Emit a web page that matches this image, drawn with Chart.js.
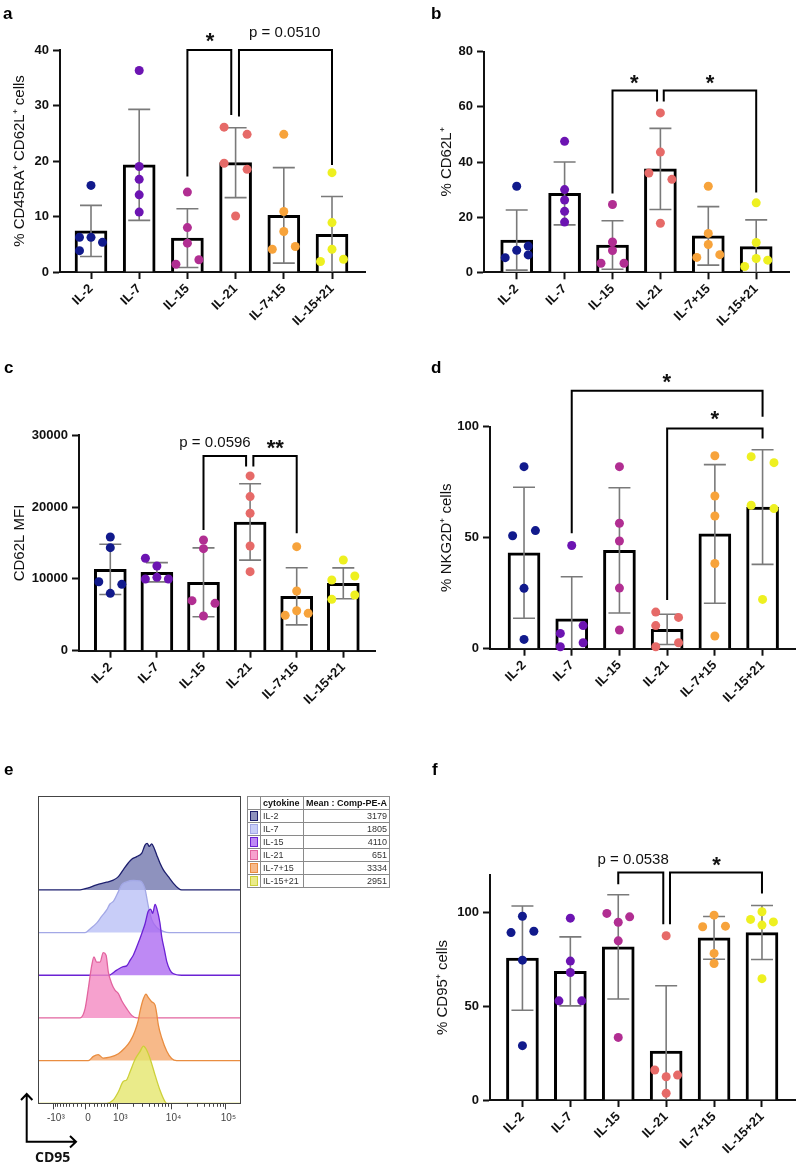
<!DOCTYPE html>
<html><head><meta charset="utf-8">
<script src="https://cdn.jsdelivr.net/npm/chart.js@4.4.1/dist/chart.umd.min.js"></script>
<style>
html,body{margin:0;padding:0;background:#fff;}
body{width:800px;height:1163px;position:relative;overflow:hidden;}
canvas{position:absolute;}
#legtab{position:absolute;left:247px;top:796px;border-collapse:collapse;font:9px "Liberation Sans",Arial,sans-serif;color:#333;border:1px solid #555;}
#legtab td,#legtab th{border:1px solid #8a8a8a;height:12px;padding:0 2px;line-height:11px;white-space:nowrap;}
#legtab th{font-weight:bold;color:#111;text-align:left;}
#legtab td.v{text-align:right;}
#legtab .sw{display:inline-block;width:6px;height:8px;border:1px solid #444;vertical-align:middle;}
</style></head><body>
<canvas id="ca" width="400" height="360" style="left:0;top:0"></canvas>
<canvas id="cb" width="400" height="360" style="left:400px;top:0"></canvas>
<canvas id="cc" width="400" height="390" style="left:0;top:360px"></canvas>
<canvas id="cd" width="400" height="390" style="left:400px;top:360px"></canvas>
<canvas id="ce" width="400" height="403" style="left:0;top:760px"></canvas>
<canvas id="cf" width="400" height="403" style="left:400px;top:760px"></canvas>
<table id="legtab"></table>
<script>
// ---------------- DATA ----------------
const categories = ['IL-2','IL-7','IL-15','IL-21','IL-7+15','IL-15+21'];

// panel a: % CD45RA+ CD62L+ cells
const aMean = [7.4, 19.3, 6.1, 19.7, 10.2, 6.8];
const aSD = [4.6, 10.0, 5.3, 6.3, 8.6, 6.8];
const aPoints = [[15.6,6.25,6.25,5.35,3.84],[36.3,19.0,16.7,13.9,10.8],[14.4,8.0,5.2,2.2,1.4],[26.1,24.8,19.6,18.5,10.1],[24.8,10.9,7.3,4.6,4.1],[17.9,8.9,4.1,2.3,1.9]];
const aCols = [[0,-1,0,1,-1],[0,0,0,0,0],[0,0,0,1,-1],[-1,1,-1,1,0],[0,0,0,1,-1],[0,0,0,1,-1]];
const aTicks = [0,10,20,30,40];

// panel b: % CD62L+
const bMean = [11.7, 28.6, 9.9, 37.5, 13.2, 9.3];
const bSD = [10.9, 11.4, 8.8, 14.7, 10.6, 9.7];
const bPoints = [[31.2,9.5,8.0,6.3,5.3],[47.5,30.0,26.2,22.1,18.2],[24.6,11.0,7.9,3.3,3.3],[57.8,43.6,36.0,33.7,17.8],[31.2,14.1,10.1,6.4,5.4],[25.2,10.8,5.0,4.4,2.1]];
const bCols = [[0,1,0,1,-1],[0,0,0,0,0],[0,0,0,-1,1],[0,0,-1,1,0],[0,0,0,1,-1],[0,0,0,1,-1]];
const bTicks = [0,20,40,60,80];

// panel c: CD62L MFI
const cMean = [11330, 10920, 9520, 17930, 7570, 9380];
const cSD = [3500, 1340, 4800, 5320, 3980, 2150];
const cPoints = [[15840,14350,9610,9240,7990],[12870,11800,9990,10220,9990],[15420,14210,6970,6600,4830],[24340,21460,19140,14580,11010],[14490,8310,5570,5200,4920],[12630,10400,9850,7760,7150]];
const cCols = [[0,0,-1,1,0],[-1,0,-1,0,1],[0,0,-1,1,0],[0,0,0,0,0],[0,0,0,1,-1],[0,1,-1,1,-1]];
const cTicks = [0,10000,20000,30000];

// panel d: % NKG2D+ cells
const dMean = [43.2, 13.4, 44.3, 8.7, 51.7, 63.8];
const dSD = [29.5, 19.0, 28.2, 6.8, 31.2, 25.8];
const dPoints = [[82.0,53.2,50.9,27.2,4.2],[46.5,10.4,6.9,2.7,0.9],[82.0,56.5,48.5,27.3,8.4],[16.5,14.1,10.4,2.7,0.9],[86.9,68.8,59.8,38.4,5.7],[86.5,83.8,64.6,63.1,22.2]];
const dCols = [[0,1,-1,0,0],[0,1,-1,1,-1],[0,0,0,0,0],[-1,1,-1,1,-1],[0,0,0,0,0],[-1,1,-1,1,0]];
const dTicks = [0,50,100];

// panel f: % CD95+ cells
const fMean = [75.7, 68.6, 81.7, 26.1, 86.5, 89.3];
const fSD = [27.8, 18.4, 27.8, 34.8, 11.4, 14.4];
const fPoints = [[98.0,90.0,89.3,74.6,29.0],[97.0,74.1,68.0,52.9,52.9],[99.5,97.7,94.8,84.9,33.4],[87.6,16.0,13.3,12.4,3.6],[98.6,92.7,92.4,78.2,72.8],[100.4,96.3,95.0,93.3,64.7]];
const fCols = [[0,1,-1,0,0],[0,0,0,-1,1],[-1,1,0,0,0],[0,-1,1,0,0],[0,1,-1,0,0],[0,-1,1,0,0]];
const fTicks = [0,50,100];

// panel e: CD95 histograms (x = position on display axis in %, h = relative height)
const eMeans = [3179, 1805, 4110, 651, 3334, 2951];
const eHistIL2 = [[20.7,0],[24.8,0.05],[28.9,0.12],[33.9,0.18],[37.2,0.23],[39.7,0.31],[42.1,0.47],[44.6,0.63],[46.3,0.72],[48.8,0.78],[51.3,0.86],[52.9,1.05],[54.0,1.09],[55.0,1.02],[56.2,1.08],[57.4,0.98],[58.7,0.82],[60.3,0.63],[62.0,0.47],[64.5,0.31],[66.9,0.16],[69.4,0.04],[71.1,0]];
const eHistIL7 = [[23.2,0],[25.5,0.08],[28.9,0.22],[31.4,0.38],[33.9,0.53],[35.5,0.67],[37.2,0.73],[39.7,0.96],[41.3,1.12],[43.8,1.19],[47.1,1.22],[50.4,1.21],[52.9,1.02],[54.5,0.63],[56.2,0.31],[58.7,0.12],[62.0,0.03],[65.0,0]];
const eHistIL15 = [[35.0,0],[38.9,0.12],[42.1,0.2],[43.8,0.22],[45.5,0.35],[47.1,0.47],[49.6,0.76],[51.3,0.98],[52.9,1.2],[54.5,1.5],[55.7,1.55],[56.7,1.45],[57.9,1.66],[59.0,1.52],[60.3,1.23],[61.2,0.9],[62.5,0.6],[63.7,0.32],[65.3,0.12],[66.8,0.04],[71.1,0]];
const eHistIL21 = [[20.7,0],[23.2,0.22],[24.8,0.69],[26.5,1.23],[27.6,1.43],[28.9,1.31],[30.6,1.31],[32.2,1.53],[33.6,1.47],[34.7,1.08],[36.4,0.8],[38.0,0.65],[39.7,0.57],[41.3,0.41],[43.8,0.22],[46.3,0.06],[48.8,0]];
const eHistIL715 = [[24.8,0],[27.3,0.1],[29.7,0.14],[32.2,0.06],[35.5,0.08],[39.7,0.16],[43.0,0.3],[45.5,0.45],[47.9,0.69],[49.6,0.95],[50.4,1.15],[52.1,1.45],[53.4,1.56],[54.5,1.48],[56.2,1.38],[57.9,1.3],[58.7,1.1],[59.5,0.84],[61.2,0.53],[63.7,0.22],[66.1,0.05],[68.6,0]];
const eHistIL1521 = [[33.9,0],[37.2,0.08],[39.7,0.27],[42.1,0.51],[43.8,0.55],[45.5,0.74],[47.9,1.02],[50.4,1.21],[52.1,1.34],[53.7,1.25],[55.4,1.05],[57.9,0.66],[60.3,0.31],[62.8,0.04],[63.7,0]];
const eHists = [eHistIL2, eHistIL7, eHistIL15, eHistIL21, eHistIL715, eHistIL1521];
const eMajorValues = [-1000, 0, 1000, 10000, 100000];
const eMajorLabels = ['-10³', '0', '10³', '10⁴', '10⁵'];

// ---------------- STYLE ----------------
const FONT = '"Liberation Sans", Arial, Helvetica, sans-serif';
Chart.defaults.font.family = FONT;
Chart.defaults.color = '#111';
const dotColors = ['#111a8c','#6c14b2','#b12e92','#e66a68','#f7a33b','#eef020'];
const eLine = ['#1d1f6e','#a3a8e6','#6b22d4','#e2649f','#e98d40','#cdd03a'];
const eFill = ['rgba(98,104,165,0.72)','rgba(182,188,245,0.75)','rgba(168,98,240,0.75)','rgba(244,138,194,0.8)','rgba(245,168,108,0.8)','rgba(228,230,105,0.78)'];

function makeBarPanel(p) {
  const el = document.getElementById(p.id);
  const [cx, cy, cw, ch] = p.box;
  const {L, R, T, B, C0, S} = p.frame;
  const xmin = -(C0 - L) / S, xmax = xmin + (R - L) / S;
  const XH = 60, yW = L - cx - 5;
  const jit = 11.5 / S;
  const pts = [];
  p.points.forEach((arr, i) => arr.forEach((v, j) => pts.push({x: i + p.cols[i][j] * jit, y: v, c: i})));
  const bars = p.mean.map((m, i) => ({x: i, y: m}));
  const deco = {
    id: 'deco',
    afterDatasetDraw(chart, args) {
      if (args.index !== 0) return;
      const {ctx} = chart, xs = chart.scales.x, ys = chart.scales.y;
      ctx.save();
      ctx.strokeStyle = '#7a7a7a'; ctx.lineWidth = 1.6;
      p.mean.forEach((m, i) => {
        const x = xs.getPixelForValue(i);
        const hi = m + p.sd[i], lo = m - p.sd[i];
        const yHi = ys.getPixelForValue(hi), yLo = ys.getPixelForValue(Math.max(lo, 0));
        ctx.beginPath();
        ctx.moveTo(x, yHi); ctx.lineTo(x, yLo);
        ctx.moveTo(x - 11, yHi); ctx.lineTo(x + 11, yHi);
        if (lo > 0) { ctx.moveTo(x - 11, yLo); ctx.lineTo(x + 11, yLo); }
        ctx.stroke();
      });
      ctx.restore();
    },
    afterDraw(chart) {
      const {ctx} = chart, xs = chart.scales.x, ys = chart.scales.y;
      ctx.save();
      ctx.strokeStyle = '#000'; ctx.lineWidth = 2; ctx.lineJoin = 'miter';
      p.brackets.forEach(b => {
        const x1 = xs.getPixelForValue(b.a + (b.aOff || 0)), x2 = xs.getPixelForValue(b.b + (b.bOff || 0));
        const y = ys.getPixelForValue(b.y);
        ctx.beginPath();
        ctx.moveTo(x1, ys.getPixelForValue(b.aEnd)); ctx.lineTo(x1, y); ctx.lineTo(x2, y); ctx.lineTo(x2, ys.getPixelForValue(b.bEnd));
        ctx.stroke();
        const tx = xs.getPixelForValue(b.tx), ty = ys.getPixelForValue(b.ty);
        ctx.fillStyle = '#111'; ctx.textAlign = 'center';
        if (/^\*+$/.test(b.text)) {
          ctx.font = 'bold 22px ' + FONT; ctx.textBaseline = 'alphabetic';
          ctx.fillText(b.text, tx, ty + 12.7);
        } else {
          ctx.font = '15px ' + FONT; ctx.textBaseline = 'middle';
          ctx.fillText(b.text, tx, ty);
        }
      });
      ctx.font = 'bold 17px ' + FONT; ctx.textAlign = 'left'; ctx.textBaseline = 'alphabetic'; ctx.fillStyle = '#000';
      ctx.fillText(p.letter, p.letterPos[0], p.letterPos[1]);
      ctx.restore();
    }
  };
  const tickFont = {size: 13, weight: 'bold', family: FONT};
  const grid = {display: true, drawOnChartArea: false, drawTicks: true, tickLength: 7, tickWidth: 2, tickColor: '#111', offset: false};
  new Chart(el, {
    type: 'bar',
    data: {datasets: [
      {type: 'bar', data: bars, backgroundColor: '#fff', borderColor: '#000', borderWidth: 3, barThickness: 32, order: 2},
      {type: 'scatter', data: pts, pointRadius: 4.5, pointHoverRadius: 4.5, pointBackgroundColor: pts.map(q => dotColors[q.c]), pointBorderWidth: 0, pointBorderColor: pts.map(q => dotColors[q.c]), order: 1, clip: false}
    ]},
    options: {
      responsive: false, animation: false, devicePixelRatio: 1,
      layout: {padding: {left: 5, top: T - cy, right: cw - (R - cx), bottom: ch - (B - cy) - XH}},
      plugins: {legend: {display: false}, tooltip: {enabled: false}},
      scales: {
        x: {type: 'linear', offset: false, min: xmin, max: xmax,
            afterBuildTicks: s => { s.ticks = categories.map((c, i) => ({value: i})); },
            afterFit: s => { s.height = XH; s.paddingLeft = 0; s.paddingRight = 0; },
            ticks: {callback: v => categories[Math.round(v)], autoSkip: false, minRotation: 45, maxRotation: 45, padding: 2, color: '#111', font: tickFont},
            grid: grid, border: {display: true, color: '#111', width: 2}},
        y: {type: 'linear', min: 0, max: p.max,
            afterBuildTicks: s => { s.ticks = p.ticks.map(v => ({value: v})); },
            afterFit: s => { s.width = yW; s.paddingTop = 0; s.paddingBottom = 0; },
            ticks: {callback: v => String(v), padding: 4, color: '#111', font: tickFont},
            grid: grid, border: {display: true, color: '#111', width: 2},
            title: {display: true, text: p.title, color: '#111', font: {size: 15, family: FONT}, padding: {top: p.titleX - cx - 5 - 9, bottom: 0}}}
      }
    },
    plugins: [deco]
  });
}

makeBarPanel({id: 'ca', box: [0, 0, 400, 360], frame: {L: 60, R: 365, T: 50, B: 272, C0: 91, S: 48.2},
  mean: aMean, sd: aSD, points: aPoints, cols: aCols, max: 40, ticks: aTicks,
  title: '% CD45RA⁺ CD62L⁺ cells', titleX: 20, letter: 'a', letterPos: [3, 18.5],
  brackets: [{a: 2, b: 3, bOff: -0.09, y: 40, aEnd: 17.2, bEnd: 28.3, text: '*', tx: 2.47, ty: 42.7},
             {a: 3, aOff: 0.07, b: 5, y: 40, aEnd: 28.0, bEnd: 19.3, text: 'p = 0.0510', tx: 4.02, ty: 43.0}]});

makeBarPanel({id: 'cb', box: [400, 0, 400, 360], frame: {L: 484, R: 789, T: 51.7, B: 272.3, C0: 516.7, S: 47.9},
  mean: bMean, sd: bSD, points: bPoints, cols: bCols, max: 80, ticks: bTicks,
  title: '% CD62L⁺', titleX: 446.7, letter: 'b', letterPos: [31, 18.5],
  brackets: [{a: 2, b: 3, bOff: -0.07, y: 65.9, aEnd: 28.6, bEnd: 61.9, text: '*', tx: 2.455, ty: 70.7},
             {a: 3, aOff: 0.07, b: 5, y: 65.9, aEnd: 61.9, bEnd: 28.9, text: '*', tx: 4.035, ty: 70.7}]});

makeBarPanel({id: 'cc', box: [0, 360, 400, 390], frame: {L: 79, R: 375, T: 435.3, B: 650.7, C0: 110.3, S: 46.6},
  mean: cMean, sd: cSD, points: cPoints, cols: cCols, max: 30000, ticks: cTicks,
  title: 'CD62L MFI', titleX: 20, letter: 'c', letterPos: [4, 13.3],
  brackets: [{a: 2, b: 3, bOff: -0.086, y: 27130, aEnd: 16810, bEnd: 25640, text: 'p = 0.0596', tx: 2.247, ty: 28970},
             {a: 3, aOff: 0.07, b: 4, y: 27130, aEnd: 25640, bEnd: 16350, text: '**', tx: 3.54, ty: 28970}]});

makeBarPanel({id: 'cd', box: [400, 360, 400, 390], frame: {L: 490, R: 798, T: 426.7, B: 648.7, C0: 524.3, S: 48.1},
  mean: dMean, sd: dSD, points: dPoints, cols: dCols, max: 100, ticks: dTicks,
  title: '% NKG2D⁺ cells', titleX: 446.7, letter: 'd', letterPos: [31, 12.7],
  brackets: [{a: 1, b: 5, y: 116.2, aEnd: 52, bEnd: 104.5, text: '*', tx: 2.99, ty: 122.8},
             {a: 3, b: 5, y: 99.2, aEnd: 21.9, bEnd: 94.7, text: '*', tx: 4.0, ty: 106.0}]});

makeBarPanel({id: 'cf', box: [400, 760, 400, 403], frame: {L: 490, R: 798, T: 875, B: 1100, C0: 522.7, S: 48.3},
  mean: fMean, sd: fSD, points: fPoints, cols: fCols, max: 120, ticks: fTicks,
  title: '% CD95⁺ cells', titleX: 442.7, letter: 'f', letterPos: [32, 15],
  brackets: [{a: 2, b: 3, bOff: -0.06, y: 121.3, aEnd: 115.1, bEnd: 93.8, text: 'p = 0.0538', tx: 2.31, ty: 128.2},
             {a: 3, aOff: 0.08, b: 5, y: 121.3, aEnd: 93.8, bEnd: 110.1, text: '*', tx: 4.05, ty: 128.2}]});

// ---------------- PANEL E ----------------
(function () {
  // biexponential-like display transform for the CD95 axis (percent of axis width)
  const biex = v => 23.2 + 27.2 * Math.asinh(v / 554) / Math.LN10;
  const minorVals = [];
  [-900,-800,-700,-600,-500,-400,-300,-200,-100,100,200,300,400,500,600,700,800,900].forEach(v => minorVals.push(v));
  for (let d = 1000; d < 100000; d *= 10) for (let k = 2; k <= 9; k++) minorVals.push(k * d);
  minorVals.push(200000);
  const base = i => 5 - i;
  const datasets = eHists.map((arr, i) => ({
    data: [{x: 0, y: base(i)}, ...arr.map(q => ({x: q[0], y: base(i) + q[1]})), {x: 100, y: base(i)}],
    borderColor: eLine[i], backgroundColor: eFill[i], fill: {value: base(i)}, borderWidth: 1.3,
    pointRadius: 0, cubicInterpolationMode: 'monotone', order: 5 - i
  }));
  const deco = {
    id: 'decoE',
    afterDraw(chart) {
      const {ctx, chartArea: a} = chart, xs = chart.scales.x;
      ctx.save();
      ctx.strokeStyle = '#444'; ctx.lineWidth = 1;
      ctx.strokeRect(Math.round(a.left) + 0.5, Math.round(a.top) + 0.5, Math.round(a.right - a.left), Math.round(a.bottom - a.top));
      ctx.beginPath();
      minorVals.forEach(v => { const p = biex(v); if (p < 0 || p > 100) return; const x = Math.round(xs.getPixelForValue(p)) + 0.5; ctx.moveTo(x, a.bottom); ctx.lineTo(x, a.bottom + 3.5); });
      eMajorValues.forEach(v => { const x = Math.round(xs.getPixelForValue(biex(v))) + 0.5; ctx.moveTo(x, a.bottom); ctx.lineTo(x, a.bottom + 6); });
      ctx.stroke();
      // axis arrows
      ctx.strokeStyle = '#000'; ctx.lineWidth = 2; ctx.lineJoin = 'miter';
      ctx.beginPath();
      ctx.moveTo(26.7, 334); ctx.lineTo(26.7, 381.7); ctx.lineTo(76, 381.7);
      ctx.moveTo(21, 340); ctx.lineTo(26.7, 334); ctx.lineTo(32.4, 340);
      ctx.moveTo(70, 376); ctx.lineTo(76, 381.7); ctx.lineTo(70, 387.4);
      ctx.stroke();
      ctx.fillStyle = '#111'; ctx.font = 'bold 14px "Open Sans", ' + FONT; ctx.textAlign = 'left'; ctx.textBaseline = 'alphabetic';
      ctx.fillText('CD95', 35, 401.5);
      ctx.font = 'bold 17px ' + FONT; ctx.fillStyle = '#000';
      ctx.fillText('e', 4, 15);
      ctx.restore();
    }
  };
  new Chart(document.getElementById('ce'), {
    type: 'line',
    data: {datasets},
    options: {
      responsive: false, animation: false, devicePixelRatio: 1,
      layout: {padding: {left: 38.3, top: 36, right: 160, bottom: 403 - 343.3 - 20}},
      plugins: {legend: {display: false}, tooltip: {enabled: false}},
      scales: {
        x: {type: 'linear', min: 0, max: 100,
            afterBuildTicks: s => { s.ticks = eMajorValues.map(v => ({value: biex(v)})); },
            afterFit: s => { s.height = 20; s.paddingLeft = 0; s.paddingRight = 0; },
            ticks: {callback: (v, i) => eMajorLabels[i], autoSkip: false, maxRotation: 0, minRotation: 0, padding: 9, labelOffset: 3, color: '#444', font: {size: 10, family: FONT}},
            grid: {display: false, drawTicks: false}, border: {display: false}},
        y: {type: 'linear', min: 0, max: 7.2, display: false}
      }
    },
    plugins: [deco]
  });

  // legend table
  const tab = document.getElementById('legtab');
  let html = '<tr><th style="width:8px"></th><th style="width:38px">cytokine</th><th style="width:81px">Mean : Comp-PE-A</th></tr>';
  categories.forEach((c, i) => {
    html += '<tr><td><span class="sw" style="background:' + eFill[i] + ';border-color:' + eLine[i] + '"></span></td><td>' + c + '</td><td class="v">' + eMeans[i] + '</td></tr>';
  });
  tab.innerHTML = html;
})();
</script>
</body></html>
